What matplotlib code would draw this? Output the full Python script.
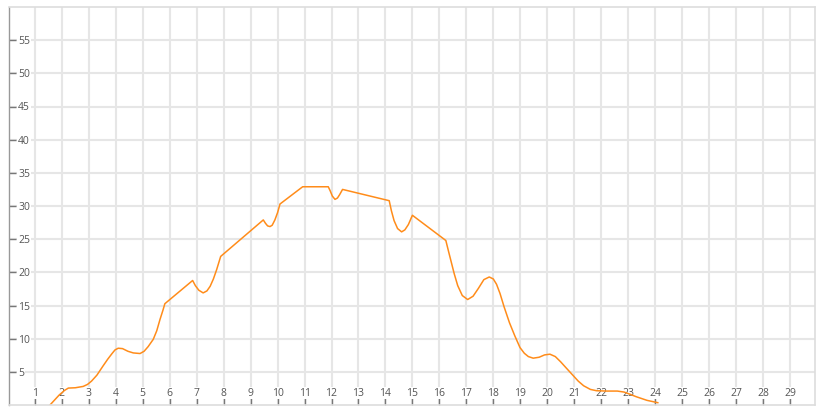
import matplotlib
matplotlib.use('Agg')
from matplotlib import pyplot as plt

# values (x position in day units, y value)
xs = [1.56, 1.9, 2.1, 2.24, 2.5, 2.79, 2.95, 3.1, 3.3, 3.53, 3.7, 3.85, 3.97,
      4.09, 4.25, 4.45, 4.65, 4.9, 5.05, 5.2, 5.39, 5.52, 5.64, 5.75, 5.82,
      6.85, 6.95, 7.08, 7.24, 7.38, 7.5, 7.62, 7.74, 7.89,
      9.47, 9.55, 9.63, 9.72, 9.8, 9.9, 10.0, 10.09,
      10.93, 11.88, 11.95, 12.03, 12.13, 12.22, 12.3, 12.41,
      14.14, 14.22, 14.32, 14.45, 14.6, 14.72, 14.85, 15.0,
      16.24, 16.35, 16.45, 16.55, 16.68, 16.85, 17.05, 17.25, 17.45, 17.65,
      17.85, 18.0, 18.12, 18.25, 18.4, 18.6, 18.8, 18.99, 19.15, 19.3, 19.48,
      19.7, 19.9, 20.1, 20.3, 20.5, 20.7, 20.97, 21.15, 21.35, 21.6, 21.83,
      22.2, 22.6, 22.85, 23.05, 23.3, 23.7, 24.1]
ys = [0.0, 1.5, 2.2, 2.55, 2.6, 2.8, 3.1, 3.6, 4.5, 5.9, 6.9, 7.7, 8.3,
      8.56, 8.5, 8.1, 7.85, 7.76, 8.1, 8.8, 9.9, 11.2, 12.9, 14.3, 15.27,
      18.77, 18.0, 17.3, 16.9, 17.2, 17.9, 19.0, 20.4, 22.4,
      27.9, 27.4, 27.0, 26.9, 27.1, 27.9, 29.0, 30.3,
      32.9, 32.9, 32.3, 31.5, 31.0, 31.2, 31.7, 32.5,
      30.8, 29.3, 27.8, 26.6, 26.1, 26.4, 27.2, 28.6,
      24.8, 23.0, 21.4, 19.8, 18.0, 16.5, 15.9, 16.4, 17.6, 18.9,
      19.3, 19.0, 18.2, 16.8, 14.8, 12.4, 10.4, 8.66, 7.8, 7.3, 7.06,
      7.2, 7.55, 7.66, 7.3, 6.5, 5.6, 4.4, 3.6, 2.9, 2.35, 2.15,
      2.1, 2.1, 1.95, 1.65, 1.25, 0.7, 0.35]
x_ticks = list(range(1, 30))
y_ticks = [5, 10, 15, 20, 25, 30, 35, 40, 45, 50, 55]

plt.rcParams['font.family'] = ['Open Sans', 'DejaVu Sans']

fig = plt.figure(figsize=(8.28, 4.16), dpi=100)
ax = fig.add_axes([9 / 828, 11 / 416, 806 / 828, 398 / 416])
ax.set_axisbelow(True)

ax.plot(xs, ys, color='#ff8c1a', lw=1.1, solid_joinstyle='round')

ax.set_xlim(0.04, 29.93)
ax.set_ylim(0, 60)
ax.set_xticks(x_ticks, [str(t) for t in x_ticks])
ax.set_yticks(y_ticks, [str(t) for t in y_ticks])
ax.grid(True, color='#e6e6e6', lw=1.5)

ax.tick_params(axis='x', direction='in', length=5, width=1, color='#777777',
               pad=-4.5, labelsize=7.5, labelcolor='#555555')
ax.tick_params(axis='y', direction='in', length=5, width=1, color='#777777',
               pad=-6.5, labelsize=7.5, labelcolor='#555555')
for lab in ax.get_xticklabels():
    lab.set_verticalalignment('bottom')
    lab.set_bbox(dict(facecolor='white', edgecolor='none', pad=0.5))
for lab in ax.get_yticklabels():
    lab.set_horizontalalignment('left')
    lab.set_bbox(dict(facecolor='white', edgecolor='none', pad=0.5))

for side in ['top', 'right', 'bottom']:
    ax.spines[side].set_color('#dddddd')
    ax.spines[side].set_linewidth(1.2)
ax.spines['left'].set_color('#999999')
ax.spines['left'].set_linewidth(1.0)

fig.savefig('out.png', dpi=100)
